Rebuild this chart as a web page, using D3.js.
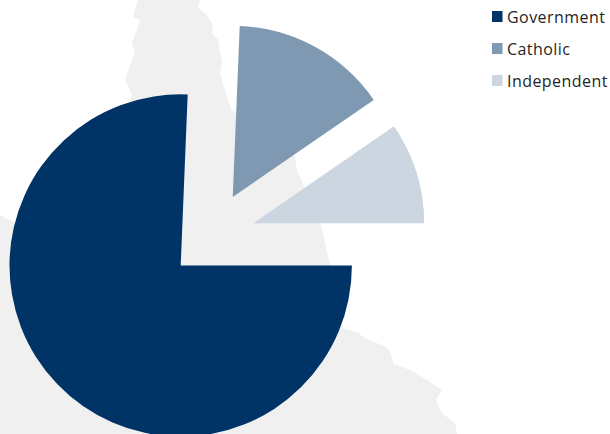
<!DOCTYPE html>
<html>
<head>
<meta charset="utf-8">
<script src="https://cdn.jsdelivr.net/npm/d3@7"></script>
<style>
html,body{margin:0;padding:0;background:#fff;overflow:hidden}
svg{display:block}
text{font-family:"Open Sans",sans-serif;font-size:16px;letter-spacing:0.45px;fill:#1f1f1f}
</style>
</head>
<body>
<svg id="chart" width="610" height="434"></svg>
<script>
const categories = ["Government", "Catholic", "Independent"];
const shares = [75.65, 14.75, 9.6];
const explode = [42, 45, 44];
const colours = ["#003366", "#7f99b2", "#ccd6e0"];
// Faint backdrop silhouette of the state, in image pixels
const mapOutline = [[138,0],[135,9],[133,17],[140,20],[137,30],[132,42],[135,53],[128,70],[125,80],[132,95],[100,160],[15,223],[0,215],[0,434],[457,434],[455,423],[442,413],[436,400],[442,390],[427,380],[410,370],[394,364],[390,352],[385,346],[368,340],[358,333],[343,328],[336,295],[330,263],[325,243],[320,223],[312,205],[303,184],[297,170],[295,157],[232,110],[227,97],[220,73],[222,63],[218,40],[212,33],[213,25],[207,15],[198,8],[200,0]];

const width = 610, height = 434;
const centre = {x: 211, y: 236.4};
const radius = 171.2;
const svg = d3.select("#chart");

svg.append("path")
  .attr("d", d3.line()(mapOutline))
  .attr("fill", "#f0f0f0");

const pie = d3.pie().sort(null).value(d => d)
  .startAngle(Math.PI / 2).endAngle(Math.PI / 2 + 2 * Math.PI);
const arc = d3.arc().innerRadius(0).outerRadius(radius);

svg.append("g").selectAll("path")
  .data(pie(shares))
  .join("path")
  .attr("d", arc)
  .attr("fill", (d, i) => colours[i])
  .attr("transform", (d, i) => {
    const mid = (d.startAngle + d.endAngle) / 2;
    return `translate(${centre.x + explode[i] * Math.sin(mid)},${centre.y - explode[i] * Math.cos(mid)})`;
  });

const y = d3.scalePoint().domain(categories).range([16.5, 80.5]);
const legend = svg.append("g").selectAll("g")
  .data(categories)
  .join("g")
  .attr("transform", d => `translate(492,${y(d)})`);
legend.append("rect")
  .attr("x", 0).attr("y", -5.5).attr("width", 10.5).attr("height", 11)
  .attr("fill", (d, i) => colours[i]);
legend.append("text")
  .attr("x", 15).attr("y", 6.5)
  .text(d => d);
</script>
</body>
</html>
